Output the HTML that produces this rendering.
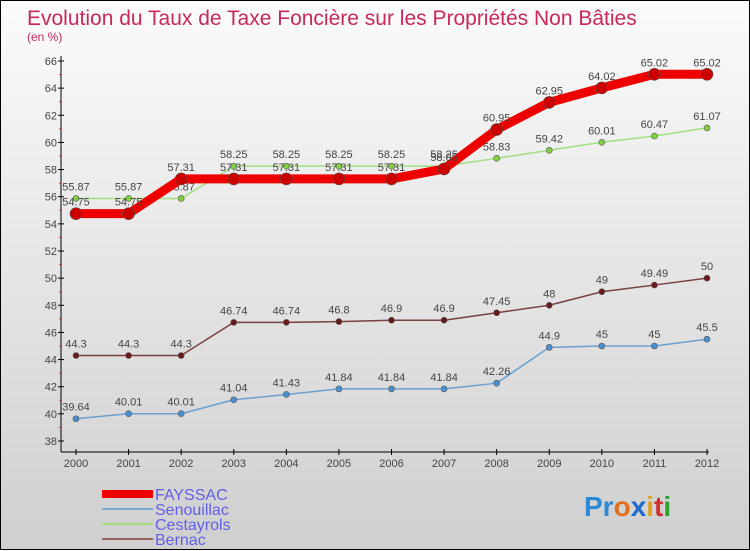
<!DOCTYPE html>
<html><head><meta charset="utf-8"><style>
html,body{margin:0;padding:0}
body{width:750px;height:550px;overflow:hidden;font-family:"Liberation Sans",sans-serif}
#wrap{position:relative;width:748px;height:548px;border:1px solid #000;background:linear-gradient(#fbfbfb,#cfcfcf)}
svg{position:absolute;left:0;top:0}
</style></head><body>
<div id="wrap">
<svg id="chart" width="750" height="550">
<text x="26" y="24" font-size="21" fill="#c8285a">Evolution du Taux de Taxe Foncière sur les Propriétés Non Bâties</text>
<text x="26" y="40" font-size="12" fill="#c8285a">(en %)</text>
<g id="axes"></g><g id="series"></g><g id="legend"></g>
<text x="583" y="515" font-size="28" font-weight="bold"><tspan fill="#2a8ad8">Pr</tspan><tspan fill="#e07020">o</tspan><tspan fill="#1a6ad0">x</tspan><tspan fill="#e0a020">i</tspan><tspan fill="#d03030">t</tspan><tspan fill="#30a030">i</tspan></text>
</svg></div>
<script>
const years=[2000,2001,2002,2003,2004,2005,2006,2007,2008,2009,2010,2011,2012];
const fayssac=[54.75,54.75,57.31,57.31,57.31,57.31,57.31,58.05,60.95,62.95,64.02,65.02,65.02];
const senouillac=[39.64,40.01,40.01,41.04,41.43,41.84,41.84,41.84,42.26,44.9,45,45,45.5];
const cestayrols=[55.87,55.87,55.87,58.25,58.25,58.25,58.25,58.25,58.83,59.42,60.01,60.47,61.07];
const bernac=[44.3,44.3,44.3,46.74,46.74,46.8,46.9,46.9,47.45,48,49,49.49,50];
const yTicks=[38,40,42,44,46,48,50,52,54,56,58,60,62,64,66];
const NS="http://www.w3.org/2000/svg";
const x=i=>75+i*(706-75)/(years.length-1);
const y=v=>60+(66-v)*(440-60)/28;
function mk(tag,attrs,parent){const e=document.createElementNS(NS,tag);for(const k in attrs)e.setAttribute(k,attrs[k]);parent.appendChild(e);return e;}
const axes=document.getElementById('axes');
let a=mk('line',{x1:60,y1:55,x2:60,y2:451,stroke:'#000'},axes);


a=mk('line',{x1:60,y1:451,x2:708,y2:451,stroke:'#000'},axes);


yTicks.forEach(v=>{
 mk('line',{x1:57,y1:y(v),x2:63,y2:y(v),stroke:'#000'},axes);
 if(v<66){mk('line',{x1:58,y1:y(v+1),x2:61,y2:y(v+1),stroke:'#e03030'},axes);}
 const t=mk('text',{x:56,y:y(v)+4,'font-size':11,fill:'#444','text-anchor':'end'},axes);
 t.textContent=v;
 
 
});
years.forEach((yr,i)=>{
 mk('line',{x1:x(i),y1:448,x2:x(i),y2:454,stroke:'#000'},axes);
 const t=mk('text',{x:x(i),y:466,'font-size':11,fill:'#444','text-anchor':'middle'},axes);
 t.textContent=yr;
 
 
});
const sg=document.getElementById('series');
function series(data,name,color,dot,w,r){
 const g=mk('g',{},sg);
 
 
 const p=mk('polyline',{points:data.map((v,i)=>x(i)+','+y(v)).join(' '),fill:'none',stroke:color,'stroke-width':w,'stroke-linejoin':'round'},g);
 
 
 data.forEach((v,i)=>{
  const c=mk('circle',{cx:x(i),cy:y(v),r:r,fill:dot,stroke:'#555','stroke-width':0.6},g);
  
  
  const t=mk('text',{x:x(i),y:y(v)-8,'font-size':11,fill:'#444','text-anchor':'middle'},g);
  t.textContent=v;
  
  
 });
}
series(senouillac,'senouillac','#6aa0d0','#4a90d0',1.5,3);
series(bernac,'bernac','#7a4040','#6a1a1a',1.5,3);
series(cestayrols,'cestayrols','#a0e080','#80d040',1.5,3);
series(fayssac,'fayssac','#ee0000','#cc0000',9,6);
const lg=document.getElementById('legend');
[['FAYSSAC','#ee0000',8],['Senouillac','#7aaed0',2],['Cestayrols','#a0e080',2],['Bernac','#9a6060',2]].forEach((d,i)=>{
 const yy=493+i*15;
 const g=mk('g',{},lg);
 
 
 mk('line',{x1:101,y1:yy,x2:152,y2:yy,stroke:d[1],'stroke-width':d[2]},g);
 const t=mk('text',{x:154,y:yy+6,'font-size':16,fill:'#6060e8'},g);
 t.textContent=d[0];
});
</script>
</body></html>
